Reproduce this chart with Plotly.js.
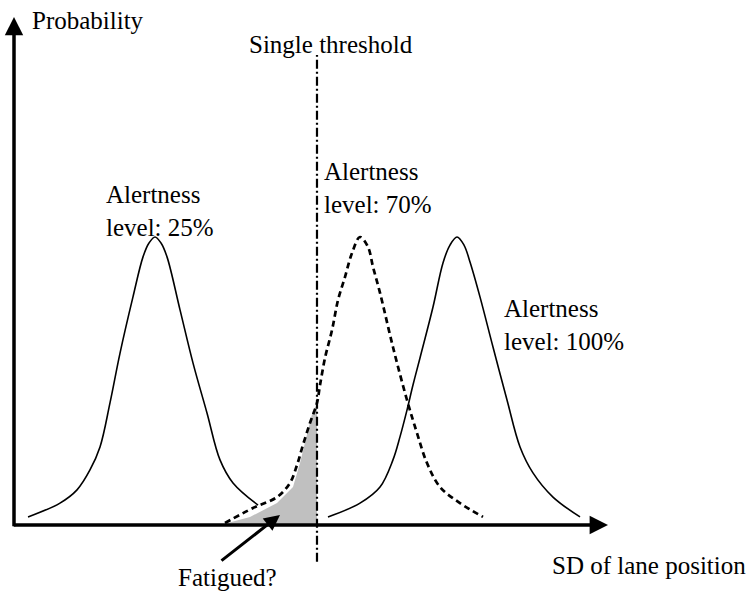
<!DOCTYPE html>
<html>
<head>
<meta charset="utf-8">
<script src="https://cdn.plot.ly/plotly-3.0.1.min.js"></script>
<style>html,body{margin:0;padding:0;background:#fff;}#chart{width:749px;height:591px;}</style>
</head>
<body>
<div id="chart"></div>
<script>
// Alertness 25% (solid)
const alert25X = [0.236,0.774,1.061,1.279,1.448,1.616,1.785,2.003,2.172,2.273,2.374,2.475,2.576,2.795,3.013,3.249,3.468,3.687,4.108];
const alert25Y = [0.028,0.076,0.122,0.191,0.271,0.424,0.597,0.792,0.931,0.979,1.000,0.979,0.931,0.747,0.563,0.389,0.226,0.146,0.069];
// Alertness 70% (dashed)
const alert70X = [3.552,4.024,4.428,4.646,4.764,4.865,4.983,5.101,5.152,5.236,5.354,5.455,5.572,5.690,5.825,5.960,6.044,6.162,6.380,6.616,6.785,6.953,7.172,7.508,7.896];
const alert70Y = [0.007,0.059,0.097,0.146,0.208,0.278,0.354,0.424,0.486,0.580,0.677,0.781,0.861,0.944,1.000,0.965,0.896,0.806,0.618,0.434,0.319,0.215,0.132,0.076,0.028];
// Alertness 100% (solid)
const alert100X = [5.286,5.825,6.162,6.380,6.498,6.616,6.717,6.835,7.054,7.222,7.340,7.458,7.576,7.677,7.845,8.064,8.300,8.519,8.737,9.074,9.529];
const alert100Y = [0.028,0.076,0.132,0.226,0.306,0.399,0.486,0.580,0.757,0.910,0.972,1.000,0.972,0.913,0.792,0.618,0.434,0.271,0.181,0.097,0.028];
// Fatigued region (shaded)
const fatiguedX = [3.468,3.973,4.428,4.697,4.815,4.933,5.034,5.101,5.101,3.468];
const fatiguedY = [0.000,0.028,0.076,0.132,0.215,0.319,0.399,0.417,0.000,0.000];
// Single threshold
const thresholdX = [5.101,5.101];
const thresholdY = [-0.128,1.632];
// Axis extents
const xAxisEnd = 10;
const yAxisEnd = 1.764;

const traces = [
  {x: fatiguedX, y: fatiguedY, mode:'lines', fill:'toself', fillcolor:'#c0c0c0', line:{width:0, color:'#c0c0c0'}, hoverinfo:'skip'},
  {x: alert25X, y: alert25Y, mode:'lines', line:{shape:'spline', color:'#000', width:1.6}},
  {x: alert100X, y: alert100Y, mode:'lines', line:{shape:'spline', color:'#000', width:1.6}},
  {x: alert70X, y: alert70Y, mode:'lines', line:{shape:'spline', color:'#000', width:2.7, dash:'6px,4px'}},
  {x: thresholdX, y: thresholdY, mode:'lines', line:{color:'#000', width:2.2, dash:'9px,3px,2px,3px'}}
];

const font = {family:'"Liberation Serif", "Times New Roman", serif', size:25, color:'#000'};
const arrowBase = {text:'', showarrow:true, axref:'x', ayref:'y', arrowcolor:'#000', arrowhead:2};

const layout = {
  width:749, height:591,
  margin:{l:0,r:0,t:0,b:0},
  paper_bgcolor:'#fff', plot_bgcolor:'#fff',
  showlegend:false,
  xaxis:{range:[-0.2357,12.374], visible:false, fixedrange:true},
  yaxis:{range:[-0.2292,1.8229], visible:false, fixedrange:true},
  font: font,
  annotations:[
    Object.assign({}, arrowBase, {x:xAxisEnd, y:0, ax:-0.03, ay:0, arrowwidth:3.5, arrowsize:1.05}),
    Object.assign({}, arrowBase, {x:0, y:yAxisEnd, ax:0, ay:-0.01, arrowwidth:3.5, arrowsize:1.05}),
    Object.assign({}, arrowBase, {x:4.478, y:0.035, ax:3.468, ay:-0.128, arrowwidth:3, arrowsize:1.05}),
    {text:'Probability', x:0.269, y:1.753, xanchor:'left', yanchor:'middle', showarrow:false, font:font},
    {text:'Single threshold', x:5.337, y:1.667, xanchor:'center', yanchor:'middle', showarrow:false, font:font},
    {text:'Alertness<br>level: 25%', x:1.515, y:1.090, xanchor:'left', yanchor:'middle', align:'left', showarrow:false, font:font},
    {text:'Alertness<br>level: 70%', x:5.185, y:1.170, xanchor:'left', yanchor:'middle', align:'left', showarrow:false, font:font},
    {text:'Alertness<br>level: 100%', x:8.215, y:0.694, xanchor:'left', yanchor:'middle', align:'left', showarrow:false, font:font},
    {text:'Fatigued?', x:3.586, y:-0.181, xanchor:'center', yanchor:'middle', showarrow:false, font:font},
    {text:'SD of lane position', x:9.024, y:-0.139, xanchor:'left', yanchor:'middle', showarrow:false, font:font}
  ]
};

Plotly.newPlot('chart', traces, layout, {staticPlot:true, displayModeBar:false});
</script>
</body>
</html>
